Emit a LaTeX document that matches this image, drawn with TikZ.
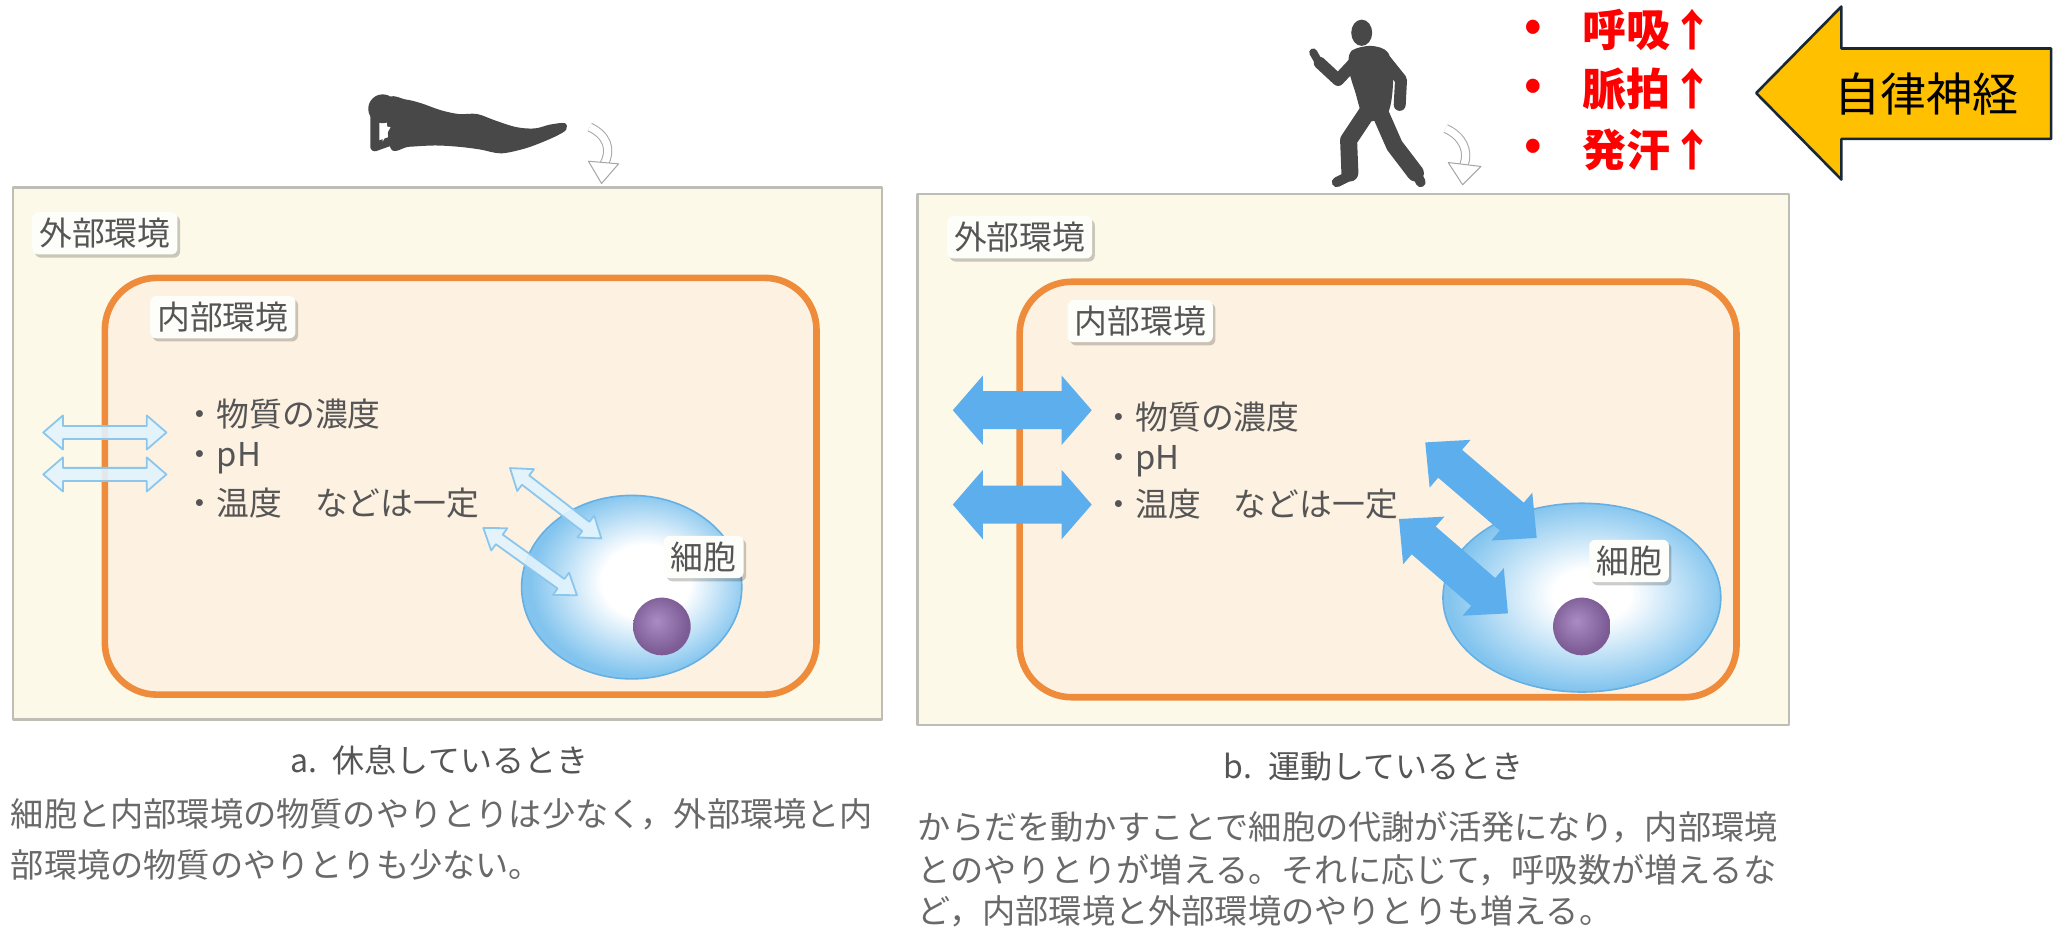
\documentclass[tikz,border=0pt]{standalone}
\usepackage{fontspec}
\newfontfamily\jp{Noto Sans CJK JP}
\usetikzlibrary{shadows}

\definecolor{outerfill}{RGB}{252,249,232}
\definecolor{outerline}{RGB}{190,190,182}
\definecolor{innerfill}{RGB}{253,241,226}
\definecolor{orangeline}{RGB}{238,140,60}
\definecolor{labelfill}{RGB}{253,253,250}
\definecolor{labeltext}{RGB}{85,85,85}
\definecolor{bodytext}{RGB}{105,105,105}
\definecolor{captext}{RGB}{85,85,85}
\definecolor{cellblue}{RGB}{130,196,238}
\definecolor{cellline}{RGB}{100,175,228}
\definecolor{nucL}{RGB}{170,140,195}
\definecolor{nucD}{RGB}{125,92,150}
\definecolor{harrline}{RGB}{140,198,236}
\definecolor{harrfill}{RGB}{226,244,253}
\definecolor{bigblue}{RGB}{92,174,236}
\definecolor{silhouette}{RGB}{72,72,72}
\definecolor{arrgrey}{RGB}{165,165,165}
\definecolor{arrowyellow}{RGB}{255,192,0}
\definecolor{navyline}{RGB}{25,40,55}
\definecolor{alertred}{RGB}{255,0,0}

\pgfdeclareradialshading{cellshadeA}{\pgfpoint{4bp}{2bp}}{color(0bp)=(white); color(10bp)=(white); color(25bp)=(cellblue); color(50bp)=(cellblue)}
\pgfdeclareradialshading{cellshadeB}{\pgfpoint{2bp}{1bp}}{color(0bp)=(white); color(7bp)=(white); color(25bp)=(cellblue); color(50bp)=(cellblue)}
\pgfdeclareradialshading{nucshade}{\pgfpoint{-5bp}{5bp}}{color(0bp)=(nucL); color(25bp)=(nucD); color(50bp)=(nucD)}

% double-headed block arrow: style, centre x, centre y, angle, half length, half shaft, half head, head length
\newcommand\dblarr[8]{%
  \begin{scope}[shift={(#2,#3)}, rotate=#4]
    \path[#1] (-#5,0) -- (-#5+#8,#7) -- (-#5+#8,#6) -- (#5-#8,#6) -- (#5-#8,#7) -- (#5,0)
      -- (#5-#8,-#7) -- (#5-#8,-#6) -- (-#5+#8,-#6) -- (-#5+#8,-#7) -- cycle;
  \end{scope}}

\begin{document}
\begin{tikzpicture}[x=0.6553pt, y=-0.6553pt, line join=round,
  lbl/.style={fill=labelfill, rounded corners=3pt, inner xsep=3.5pt, inner ysep=3pt,
    text=labeltext, font=\jp\fontsize{16.4}{18}\selectfont,
    drop shadow={shadow xshift=1.3pt, shadow yshift=-1.6pt, fill=black, opacity=0.2}},
  body/.style={text=labeltext, font=\jp\fontsize{16.4}{20}\selectfont, anchor=west, inner sep=0pt},
  para/.style={text=bodytext, font=\jp\fontsize{16.6}{20}\selectfont, anchor=west, inner sep=0pt},
  captiontext/.style={text=captext, font=\jp\fontsize{16}{20}\selectfont, inner sep=0pt},
  hollowarr/.style={draw=harrline, fill=harrfill, fill opacity=0.9, line width=0.9pt},
  bigarr/.style={fill=bigblue},
  curvearr/.style={draw=arrgrey, line width=0.5pt, double=white, double distance=3.6pt},
  curvehead/.style={draw=arrgrey, fill=white, line width=0.5pt},
  redtxt/.style={text=alertred, font=\jp\bfseries\fontsize{22}{26}\selectfont, inner sep=0pt},
  figure/.style={draw=silhouette, line cap=round, line join=round}
]
\useasboundingbox (0,0) rectangle (1568,710);
\fill[white] (0,0) rectangle (1568,710);

%% ---------------- panel a: at rest ----------------
\draw[outerline, fill=outerfill, line width=1.1pt] (10,143) rectangle (673,549);
\draw[orangeline, fill=innerfill, line width=3.3pt, rounded corners=26pt] (80,212) rectangle (623,530);

\node[lbl] (outa) at (80,178) {外部環境};
\node[lbl] (ina) at (170,242) {内部環境};

\node[body] (a1) at (140,316) {・物質の濃度};
\node[body] (a2) at (140,350) {・pH};
\node[body] (a3) at (140,384) {・温度　などは一定};

% the cell
\shadedraw[shading=cellshadeA, draw=cellline, line width=0.8pt] (482,448) ellipse [x radius=84, y radius=70];
\shade[shading=nucshade] (505,478) circle [radius=22];
\node[lbl] (cella) at (537,425) {細胞};

% small exchanges
\dblarr{hollowarr}{80}{330}{0}{47}{5}{13}{15}
\dblarr{hollowarr}{80}{362}{0}{47}{5}{13}{15}
\dblarr{hollowarr}{424}{384}{-37.6}{44}{4.5}{10.5}{15}
\dblarr{hollowarr}{404.5}{428.5}{-35.7}{44}{4.5}{10.5}{15}

% person lying down, hand behind the head
\fill[silhouette] (292,83) ellipse [x radius=11, y radius=11];
\fill[silhouette] plot[smooth cycle, tension=0.55] coordinates {
  (296,76) (310,76) (322,79) (336,84) (350,87) (364,87) (378,92)
  (394,97) (408,98) (420,95) (431,94) (432,99) (424,104) (410,110)
  (398,114) (382,117) (366,114) (350,112) (332,111) (312,112) (298,113)};
\draw[silhouette, line width=4.5pt, line cap=round] (286,84) -- (286,112) -- (300,107);
\fill[white] (291,96) -- (298,97) -- (292,108) -- cycle;
\draw[curvearr] (450,97) .. controls (463,103) and (467,114) .. (461,125);
\draw[curvehead] (449,123) -- (472,125) -- (459,140) -- cycle;

\node[captiontext] (capa) at (335,580) {a.\hspace{0.5em}休息しているとき};
\node[para] (pa1) at (8,621) {細胞と内部環境の物質のやりとりは少なく，外部環境と内};
\node[para] (pa2) at (8,660) {部環境の物質のやりとりも少ない。};

%% ---------------- panel b: during exercise ----------------
\draw[outerline, fill=outerfill, line width=1.1pt] (700,148) rectangle (1365,553);
\draw[orangeline, fill=innerfill, line width=3.3pt, rounded corners=26pt] (778,215) rectangle (1325,532);

\node[lbl] (outb) at (778,181) {外部環境};
\node[lbl] (inb) at (870,245) {内部環境};

\node[body] (b1) at (841,318) {・物質の濃度};
\node[body] (b2) at (841,352) {・pH};
\node[body] (b3) at (841,385) {・温度　などは一定};

\shadedraw[shading=cellshadeB, draw=cellline, line width=0.8pt] (1207,456) ellipse [x radius=106, y radius=72];
\shade[shading=nucshade] (1207,478) circle [radius=22];
\node[lbl] (cellb) at (1243,428) {細胞};

% large exchanges
\dblarr{bigarr}{780}{313}{0}{53}{14.5}{26.5}{23}
\dblarr{bigarr}{780}{385}{0}{53}{14.5}{26.5}{23}
\dblarr{bigarr}{1130}{374}{-40.6}{56}{14}{24}{25}
\dblarr{bigarr}{1109}{432}{-40.9}{55}{14}{24}{25}

% running person
\begin{scope}[figure]
  \fill[silhouette] (1039,25) ellipse [x radius=8, y radius=10];
  \fill[silhouette] plot[smooth cycle, tension=0.5] coordinates {
    (1031,39) (1046,35) (1059,40) (1063,60) (1059,86) (1042,92) (1034,70) (1029,52)};
  \draw[line width=6pt] (1036,45) -- (1021,61) -- (1007,48);
  \draw[line width=4pt] (1006,47) -- (1002,40);
  \draw[line width=6pt] (1057,46) -- (1069,61) -- (1068,80);
  \draw[line width=8.5pt] (1043,86) -- (1029,107) -- (1030,132);
  \draw[line width=5pt] (1030,134) -- (1020,139);
  \draw[line width=8.5pt] (1053,86) -- (1064,111) -- (1080,132);
  \draw[line width=5pt] (1081,133) -- (1084,139);
\end{scope}
\draw[curvearr] (1103,98) .. controls (1116,104) and (1121,115) .. (1117,126);
\draw[curvehead] (1105,124) -- (1130,127) -- (1116,141) -- cycle;

\node[captiontext] (capb) at (1048,585) {b.\hspace{0.5em}運動しているとき};
\node[para] (pb1) at (700,631) {からだを動かすことで細胞の代謝が活発になり，内部環境};
\node[para] (pb2) at (700,664) {とのやりとりが増える。それに応じて，呼吸数が増えるな};
\node[para] (pb3) at (700,695) {ど，内部環境と外部環境のやりとりも増える。};

%% ---------------- autonomic response ----------------
\node[redtxt] (dot1) at (1170,23) {•};
\node[redtxt] (dot2) at (1170,68) {•};
\node[redtxt] (dot3) at (1170,114) {•};
\node[redtxt, anchor=west] (r1) at (1207,23) {呼吸↑};
\node[redtxt, anchor=west] (r2) at (1207,68) {脈拍↑};
\node[redtxt, anchor=west] (r3) at (1207,114) {発汗↑};

\draw[fill=arrowyellow, draw=navyline, line width=1.3pt]
  (1340,71) -- (1405,5) -- (1405,37) -- (1565,37) -- (1565,106) -- (1405,106) -- (1405,137) -- cycle;
\node[font=\jp\fontsize{23}{26}\selectfont, inner sep=0pt] (ans) at (1470,72) {自律神経};
\end{tikzpicture}
\end{document}
